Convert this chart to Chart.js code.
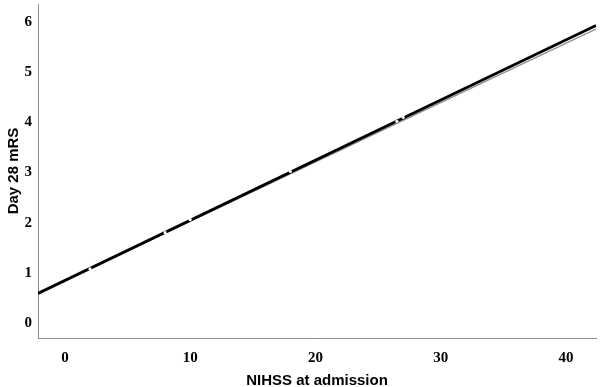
<!DOCTYPE html>
<html>
<head>
<meta charset="utf-8">
<script src="https://cdn.jsdelivr.net/npm/chart.js@4/dist/chart.umd.min.js"></script>
<style>
  html, body { margin: 0; padding: 0; background: #fff; }
  #wrap { width: 600px; height: 387px; }
</style>
</head>
<body>
<div id="wrap"><canvas id="chart"></canvas></div>
<script>
/* ================= DATA ================= */
const lineX = [-2.15, 42.4];
const fitY = [0.59, 5.93];      // black regression line
const loessY = [0.59, 5.86];    // grey line underneath
const gapX = [2, 8, 10, 18, 26.5, 27];           // faint white marks on the line
const gapY = [1.08, 1.8, 2.06, 3.02, 4.02, 4.1];
const xTicks = [0, 10, 20, 30, 40];
const yTicks = [0, 1, 2, 3, 4, 5, 6];

const toPoints = (xs, ys) => xs.map((x, i) => ({ x: x, y: ys[i] }));

const tickFont = { family: "'Liberation Serif', 'DejaVu Serif', serif", size: 15, weight: "bold" };
const titleFont = { family: "'Liberation Sans', Arial, sans-serif", size: 15, weight: "bold" };

/* ================= CHART ================= */
new Chart(document.getElementById("chart"), {
    type: "scatter",
    data: {
        datasets: [
            {
                data: toPoints(gapX, gapY),
                pointRadius: 1.6,
                pointBackgroundColor: "#fff",
                pointBorderWidth: 0,
                order: 0
            },
            {
                data: toPoints(lineX, fitY),
                showLine: true,
                borderColor: "#000",
                borderWidth: 2.8,
                pointRadius: 0,
                order: 1
            },
            {
                data: toPoints(lineX, loessY),
                showLine: true,
                borderColor: "#8a8a8a",
                borderWidth: 1.4,
                pointRadius: 0,
                order: 2
            }
        ]
    },
    options: {
        responsive: true,
        maintainAspectRatio: false,
        animation: false,
        layout: { padding: { top: 2, right: 2, left: 0, bottom: 0 } },
        plugins: { legend: { display: false }, tooltip: { enabled: false } },
        scales: {
            x: {
                type: "linear",
                min: lineX[0],
                max: lineX[1],
                afterBuildTicks: s => { s.ticks = xTicks.map(v => ({ value: v })); },
                afterFit: s => { s.height = 49; s.paddingLeft = 0; s.paddingRight = 0; },
                grid: { display: false, drawTicks: false },
                border: { color: "#8c8c8c", width: 1 },
                ticks: { color: "#000", font: tickFont, padding: 11, maxRotation: 0 },
                title: { display: true, text: "NIHSS at admission", color: "#000", font: titleFont, padding: { top: 8, bottom: -3 } }
            },
            y: {
                type: "linear",
                min: -0.3,
                max: 6.36,
                afterBuildTicks: s => { s.ticks = yTicks.map(v => ({ value: v })); },
                afterFit: s => { s.width = 38; s.paddingTop = 0; s.paddingBottom = 0; },
                grid: { display: false, drawTicks: false },
                border: { color: "#8c8c8c", width: 1 },
                ticks: { color: "#000", font: tickFont, padding: 6 },
                title: { display: true, text: "Day 28 mRS", color: "#000", font: titleFont, padding: { top: 5, bottom: 4 } }
            }
        }
    }
});
</script>
</body>
</html>
